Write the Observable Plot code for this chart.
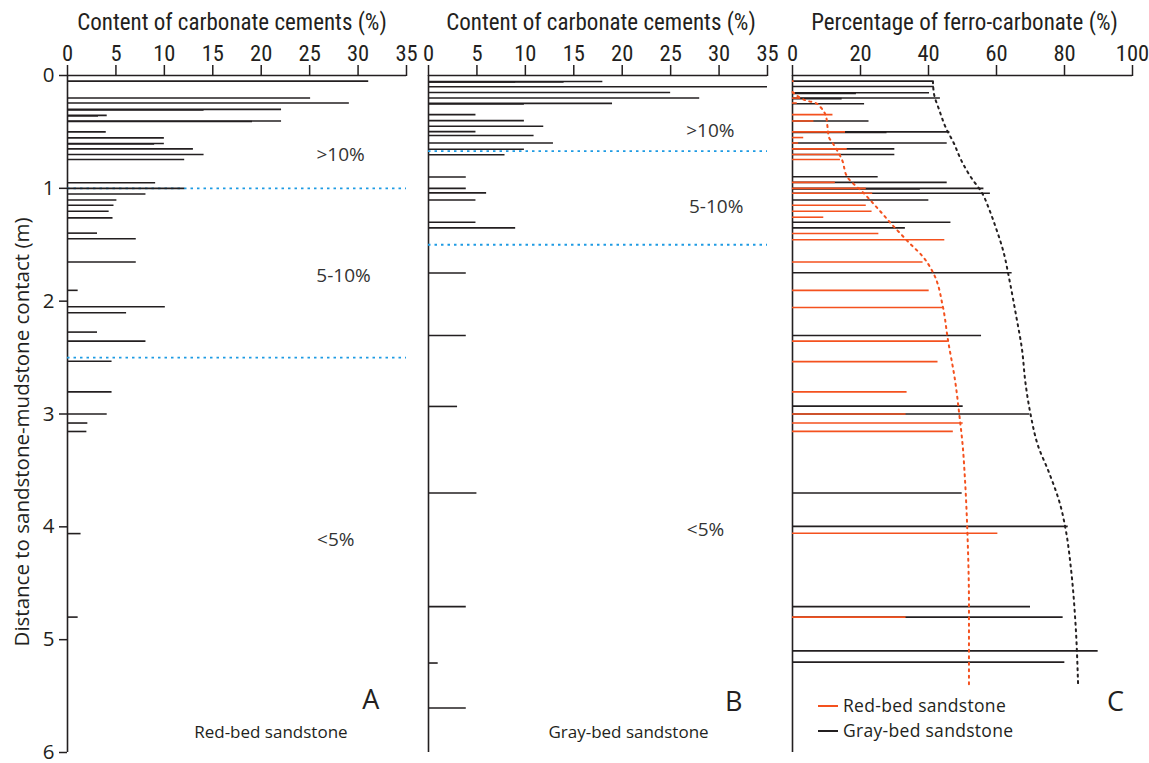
<!DOCTYPE html>
<html>
<head>
<meta charset="utf-8">
<script src="https://cdn.jsdelivr.net/npm/d3@7"></script>
<script src="https://cdn.jsdelivr.net/npm/@observablehq/plot@0.6"></script>
<style>
  body { margin: 0; background: #fff; }
  #fig { position: relative; width: 1149px; height: 763px; overflow: hidden; }
  #fig > svg { position: absolute; top: 0; overflow: visible; background: transparent; }
  #legend { position: absolute; left: 818px; top: 693px; font-family: "Open Sans", sans-serif; font-size: 17.5px; color: #231f20; line-height: 25px; letter-spacing: 0.3px; }
  #legend div { display: flex; align-items: center; }
  #legend span.sw { display: inline-block; width: 20px; height: 0; border-top: 2px solid; margin-right: 5px; }
</style>
</head>
<body>
<div id="fig"></div>
<script>
// ---- Panel A: red-bed sandstone, carbonate cement content (%) by depth (m)
const redDepth  = [0.05, 0.20, 0.244, 0.30, 0.306, 0.353, 0.358, 0.403, 0.408, 0.50, 0.553, 0.603, 0.607, 0.65, 0.70, 0.744,
                   0.951, 1.00, 1.05, 1.103, 1.15, 1.203, 1.262, 1.397, 1.447, 1.653, 1.904, 2.05, 2.103, 2.274, 2.354,
                   2.533, 2.804, 3.00, 3.08, 3.155, 4.06, 4.80];
const redCement = [31.1, 25.1, 29.1, 22.1, 14.1, 4.1, 3.2, 22.1, 19.1, 4.0, 10.0, 10.0, 9.0, 13.0, 14.1, 12.1,
                   9.1, 12.1, 8.1, 5.1, 4.8, 4.3, 4.7, 3.1, 7.1, 7.1, 1.1, 10.1, 6.1, 3.1, 8.1,
                   4.6, 4.6, 4.1, 2.1, 2.0, 1.4, 1.1];

// ---- Panel B: gray-bed sandstone, carbonate cement content (%) by depth (m)
const grayDepth  = [0.053, 0.058, 0.058, 0.10, 0.15, 0.20, 0.247, 0.252, 0.347, 0.40, 0.45, 0.497, 0.532, 0.598, 0.653, 0.703,
                    0.90, 1.00, 1.04, 1.103, 1.30, 1.35, 1.75, 2.304, 2.933, 3.70, 4.707, 5.207, 5.605];
const grayCement = [18.0, 14.0, 9.0, 35.0, 25.0, 28.0, 19.0, 9.9, 4.9, 9.9, 11.9, 4.9, 10.9, 12.9, 9.9, 7.9,
                    3.9, 3.9, 6.0, 4.9, 4.9, 9.0, 3.9, 3.9, 3.0, 5.0, 3.9, 1.0, 3.9];

// ---- Panel C: percentage of ferro-carbonate (%) by depth (m)
const redFeDepth = [0.05, 0.153, 0.20, 0.244, 0.347, 0.403, 0.50, 0.55, 0.598, 0.65, 0.70, 0.744, 0.947, 1.00, 1.044,
                    1.15, 1.203, 1.256, 1.40, 1.456, 1.653, 1.904, 2.056, 2.354, 2.536, 2.804, 3.00, 3.08, 3.154, 4.057, 4.80];
const redFe      = [0.5, 0.8, 2.4, 1.4, 11.9, 6.3, 15.6, 3.3, 1.8, 16.1, 14.4, 14.1, 12.6, 21.7, 23.6,
                    21.7, 23.4, 9.2, 25.4, 44.8, 38.4, 40.2, 44.3, 45.8, 42.8, 33.7, 33.4, 50.2, 47.3, 60.4, 33.4];
const grayFeDepth = [0.05, 0.097, 0.153, 0.158, 0.20, 0.205, 0.25, 0.403, 0.50, 0.505, 0.598, 0.65, 0.70, 0.898, 0.947,
                     1.00, 1.005, 1.044, 1.103, 1.30, 1.35, 1.748, 2.304, 2.93, 3.00, 3.70, 3.996, 4.707, 4.80, 5.099, 5.199];
const grayFe      = [41.3, 41.7, 40.3, 18.8, 43.5, 14.6, 21.2, 22.5, 46.3, 27.8, 45.5, 30.1, 30.1, 25.2, 45.5,
                     56.3, 37.6, 58.2, 40.1, 46.6, 33.2, 64.6, 55.6, 50.2, 69.8, 49.9, 81.1, 70.0, 79.6, 89.9, 80.1];

// trend envelopes drawn as dotted curves in panel C
const redTrendDepth  = [0.147, 0.17, 0.206, 0.227, 0.241, 0.274, 0.318, 0.368, 0.456, 0.545, 0.603, 0.75, 0.898, 1.044,
                        1.19, 1.339, 1.485, 1.604, 1.75, 2.045, 2.339, 2.72, 3.016, 3.295, 3.515, 4.10, 4.69, 5.40];
const redTrendFe     = [0, 0.9, 2.8, 4.6, 6.6, 8.0, 9.2, 9.9, 10.3, 10.7, 11.9, 14.6, 16.1, 21.0,
                        25.4, 29.8, 34.4, 38.3, 41.4, 44.2, 45.7, 47.9, 49.1, 50.1, 50.6, 51.5, 51.9, 51.9];
const grayTrendDepth = [0.05, 0.16, 0.309, 0.456, 0.603, 0.75, 0.898, 1.044, 1.19, 1.339, 1.604, 1.75, 2.133, 2.427,
                        2.72, 3.0, 3.28, 3.515, 3.81, 4.016, 4.398, 4.84, 5.40];
const grayTrendFe    = [41.3, 41.6, 43.2, 45.0, 47.5, 49.6, 52.4, 55.8, 57.9, 59.7, 62.4, 63.4, 65.8, 67.5,
                        68.5, 70.0, 72.2, 75.4, 78.8, 80.3, 82.0, 83.2, 84.0];

// cement-content zone boundaries (m)
const redZoneBounds  = [1.0, 2.5];
const grayZoneBounds = [0.67, 1.5];
const zoneLabels = [">10%", "5-10%", "<5%"];

const cementTicks = [0, 5, 10, 15, 20, 25, 30, 35];
const feTicks     = [0, 20, 40, 60, 80, 100];
const depthTicks  = [0, 1, 2, 3, 4, 5, 6];

const titleCement = "Content of carbonate cements (%)";
const titleFe     = "Percentage of ferro-carbonate (%)";
const depthLabel  = "Distance to sandstone-mudstone contact (m)";

// ---- shared styling
const INK = "#231f20", RED = "#f4511e", BLUE = "#1e9be3";
const H = 763, TOP = 75, BOTTOM = 11;
const narrow = "'Liberation Sans Narrow', 'Roboto Condensed', 'DejaVu Sans Condensed', Roboto, sans-serif";
const sans = "'Open Sans', 'Noto Sans', sans-serif";

const rows = (d, v) => d.map((y, i) => ({depth: y, value: v[i]}));

function frameMarks(ticks, title, titleDx) {
  return [
    Plot.axisX(ticks, {anchor: "top", tickSize: 11, tickPadding: 4, fontSize: 22.5, fontFamily: narrow,
                       stroke: INK, strokeWidth: 1.5, fill: INK, label: null}),
    Plot.ruleY([0], {stroke: INK, strokeWidth: 1.6}),
    Plot.ruleX([0], {stroke: INK, strokeWidth: 1.6}),
    Plot.text([title], {frameAnchor: "top", textAnchor: "middle", lineAnchor: "middle", dx: titleDx, dy: -53,
                        fontSize: 23, fontFamily: narrow, fill: INK})
  ];
}

const fig = document.getElementById("fig");

// ---- Panel A
const plotA = Plot.plot({
  width: 420, height: H, marginLeft: 67, marginRight: 14, marginTop: TOP, marginBottom: BOTTOM,
  style: {background: "transparent", overflow: "visible"},
  x: {domain: [0, 35], axis: null},
  y: {domain: [0, 6], reverse: true, axis: null},
  marks: [
    ...frameMarks(cementTicks, titleCement, -5),
    Plot.axisY(depthTicks, {anchor: "left", tickSize: 8, tickPadding: 5, fontSize: 20.5, fontFamily: sans,
                            tickFormat: d => String(d), stroke: INK, strokeWidth: 1.5, fill: INK, label: null}),
    Plot.text([depthLabel], {frameAnchor: "left", textAnchor: "middle", rotate: -90, dx: -45, dy: 18,
                             fontSize: 20.5, fontFamily: sans, fill: INK}),
    Plot.ruleY(redZoneBounds, {stroke: BLUE, strokeWidth: 1.8, strokeDasharray: "2.5,4"}),
    Plot.ruleY(rows(redDepth, redCement), {y: "depth", x1: 0, x2: "value", stroke: INK, strokeWidth: 1.6}),
    Plot.text(zoneLabels, {x: [28.2, 28.5, 27.7], y: [0.706, 1.774, 4.12], fontSize: 19, fontFamily: sans, fill: "#333"}),
    Plot.text(["A"], {x: 31.3, y: 5.54, fontSize: 27, fontFamily: sans, fill: INK}),
    Plot.text(["Red-bed sandstone"], {x: 21.0, y: 5.825, fontSize: 17, fontFamily: sans, fill: INK, letterSpacing: "0.6px"})
  ]
});
plotA.style.left = "0px";
fig.append(plotA);

// ---- Panel B
const plotB = Plot.plot({
  width: 365, height: H, marginLeft: 8, marginRight: 18, marginTop: TOP, marginBottom: BOTTOM,
  style: {background: "transparent", overflow: "visible"},
  x: {domain: [0, 35], axis: null},
  y: {domain: [0, 6], reverse: true, axis: null},
  marks: [
    ...frameMarks(cementTicks, titleCement, 3),
    Plot.ruleY(grayZoneBounds, {stroke: BLUE, strokeWidth: 1.8, strokeDasharray: "2.5,4"}),
    Plot.ruleY(rows(grayDepth, grayCement), {y: "depth", x1: 0, x2: "value", stroke: INK, strokeWidth: 1.6}),
    Plot.text(zoneLabels, {x: [29.1, 29.7, 28.6], y: [0.494, 1.165, 4.025], fontSize: 19, fontFamily: sans, fill: "#333"}),
    Plot.text(["B"], {x: 31.5, y: 5.56, fontSize: 27, fontFamily: sans, fill: INK}),
    Plot.text(["Gray-bed sandstone"], {x: 20.65, y: 5.825, fontSize: 17, fontFamily: sans, fill: INK, letterSpacing: "0.6px"})
  ]
});
plotB.style.left = "420px";
fig.append(plotB);

// ---- Panel C
const plotC = Plot.plot({
  width: 364, height: H, marginLeft: 7, marginRight: 17, marginTop: TOP, marginBottom: BOTTOM,
  style: {background: "transparent", overflow: "visible"},
  x: {domain: [0, 100], axis: null},
  y: {domain: [0, 6], reverse: true, axis: null},
  marks: [
    ...frameMarks(feTicks, titleFe, 2),
    Plot.ruleY(rows(grayFeDepth, grayFe), {y: "depth", x1: 0, x2: "value", stroke: INK, strokeWidth: 1.6}),
    Plot.ruleY(rows(redFeDepth, redFe), {y: "depth", x1: 0, x2: "value", stroke: RED, strokeWidth: 1.6}),
    Plot.line(rows(redTrendDepth, redTrendFe), {x: "value", y: "depth", curve: "monotone-y",
                                                 stroke: RED, strokeWidth: 2, strokeDasharray: "2,4.5"}),
    Plot.line(rows(grayTrendDepth, grayTrendFe), {x: "value", y: "depth", curve: "monotone-y",
                                                   stroke: INK, strokeWidth: 2, strokeDasharray: "2,4.5"}),
    Plot.text(["C"], {x: 95, y: 5.56, fontSize: 27, fontFamily: sans, fill: INK})
  ]
});
plotC.style.left = "785px";
fig.append(plotC);

// ---- legend for panel C
const legend = document.createElement("div");
legend.id = "legend";
legend.innerHTML =
  `<div><span class="sw" style="border-color:${RED}"></span>Red-bed sandstone</div>` +
  `<div><span class="sw" style="border-color:${INK}"></span>Gray-bed sandstone</div>`;
fig.append(legend);
</script>
</body>
</html>
